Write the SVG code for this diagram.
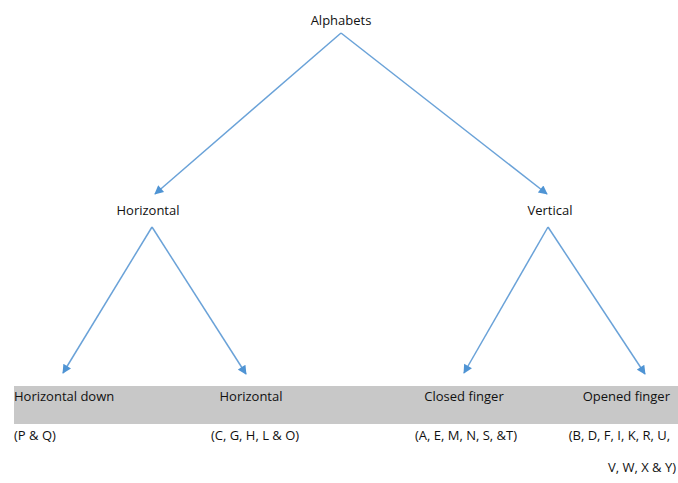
<svg xmlns="http://www.w3.org/2000/svg" width="678" height="483" viewBox="0 0 678 483">
<defs>
<style>
text{font-family:"Open Sans","Liberation Sans",sans-serif;font-size:13px;fill:#111;}
.c{stroke:#6aa2d8;stroke-width:1.5;fill:none;marker-end:url(#ah);}
</style>
<marker id="ah" viewBox="0 0 10 10" refX="9" refY="5" markerWidth="11" markerHeight="9" markerUnits="userSpaceOnUse" orient="auto"><path d="M0,0L10,5L0,10z" fill="#4f94d4"/></marker>
</defs>
<rect x="0" y="0" width="678" height="483" fill="#fff"/>
<rect x="14" y="386" width="664" height="38" fill="#c8c8c8"/>
<g id="connectors">
<path class="c" d="M341,33L155,194"/>
<path class="c" d="M341,33L547,194"/>
<path class="c" d="M152,227L63,373"/>
<path class="c" d="M152,227L246,374"/>
<path class="c" d="M548,227L464,373"/>
<path class="c" d="M548,227L645,374"/>
</g>
<g id="alphabets"><text x="341" y="25" text-anchor="middle">Alphabets</text></g>
<g id="horizontal"><text x="148" y="215" text-anchor="middle">Horizontal</text></g>
<g id="vertical"><text x="550" y="215" text-anchor="middle">Vertical</text></g>
<g id="horizontal-down"><text x="14" y="401">Horizontal down</text><text x="14" y="440">(P &amp; Q)</text></g>
<g id="horizontal2"><text x="251" y="401" text-anchor="middle">Horizontal</text><text x="255" y="440" text-anchor="middle">(C, G, H, L &amp; O)</text></g>
<g id="closed-finger"><text x="464" y="401" text-anchor="middle">Closed finger</text><text x="466" y="440" text-anchor="middle">(A, E, M, N, S, &amp;T)</text></g>
<g id="opened-finger"><text x="670" y="401" text-anchor="end">Opened finger</text><text x="670" y="440" text-anchor="end">(B, D, F, I, K, R, U,</text><text x="676" y="472" text-anchor="end">V, W, X &amp; Y)</text></g>
</svg>
